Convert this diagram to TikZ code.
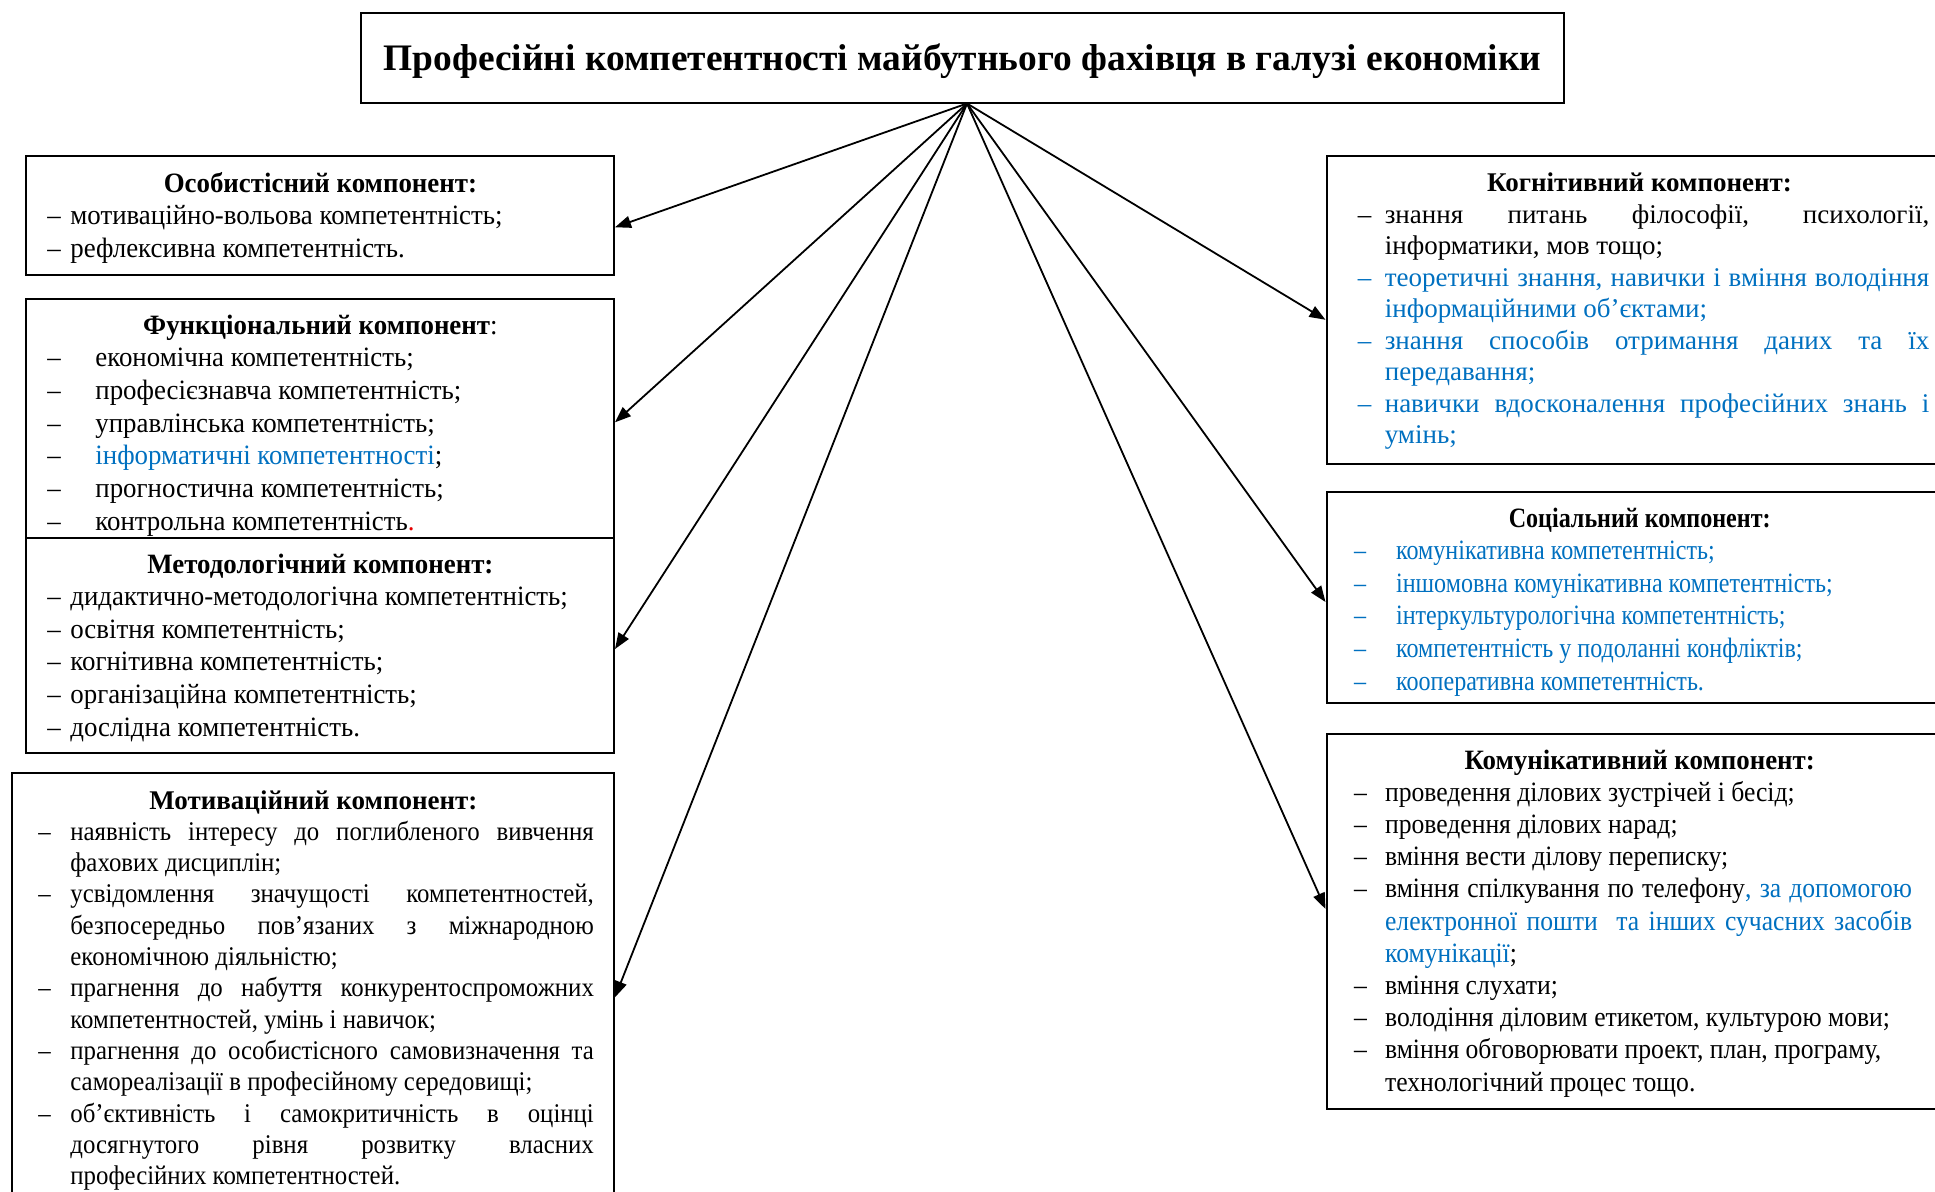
\documentclass[tikz,border=0pt]{standalone}
\usepackage{fontspec}
\setmainfont{Liberation Serif}
% narrower cuts of the same face
\newfontfamily\fsa[FakeStretch=0.96]{Liberation Serif}
\newfontfamily\fsb[FakeStretch=0.92]{Liberation Serif}
\newfontfamily\fsc[FakeStretch=0.86]{Liberation Serif}
\newfontfamily\fsd[FakeStretch=0.915]{Liberation Serif}
\usetikzlibrary{arrows.meta,calc}
\definecolor{itblue}{RGB}{0,112,192}
\definecolor{itred}{RGB}{230,0,0}

% heading line centred at a given offset from the left edge of the text block
\newcommand{\hd}[2]{\noindent\hspace*{#1}\makebox[0pt][c]{#2}\par}
% list line opening with a dash: [colour]{indent}{text}
\newcommand{\dl}[3][black]{\noindent{\color{#1}\makebox[#2][l]{–}#3}\par}
% continuation line of an item
\newcommand{\cl}[3][black]{\noindent\hspace*{#2}{\color{#1}#3}\par}
% fully justified line of given width
\newcommand{\jl}[2]{\makebox[#1][s]{#2}}

\begin{document}
\begin{tikzpicture}[x=0.5pt,y=-0.5pt,
  box/.style={draw, line width=1pt, inner sep=0pt},
  txt/.style={anchor=base west, inner sep=0pt},
  arr/.style={-{Triangle[length=8pt,width=6pt]}, line width=0.9pt}]
\useasboundingbox (0,0) rectangle (1935,1191);
\clip (0,0) rectangle (1935,1191);

% title
\node[box, minimum width=601.5pt, minimum height=45pt] (title) at (962.5,58) {};
\node[anchor=base, inner sep=0pt] (titleT) at (962.5,70)
  {\fontsize{18.7pt}{21pt}\selectfont\bfseries Професійні компетентності майбутнього фахівця в галузі економіки};
\coordinate (src) at (967,103.5);

% left column frames
\node[box, minimum width=294pt, minimum height=59.75pt] (osob) at (320,215.25) {};
\node[box, minimum width=294pt, minimum height=119.7pt] (func) at (320,418.3) {};
\node[box, minimum width=294pt, minimum height=107.5pt] (meth) at (320,645.5) {};
\node[box, minimum width=301pt, minimum height=224.75pt] (motiv) at (313,997.25) {};

% right column frames
\node[box, minimum width=312.75pt, minimum height=154.25pt] (cogn) at (1639.25,309.75) {};
\node[box, minimum width=312.75pt, minimum height=105.5pt] (soc) at (1639.25,597.5) {};
\node[box, minimum width=312.75pt, minimum height=187.5pt] (comm) at (1639.25,921.5) {};

% texts
\node[txt] (osobT) at (47,192) {\parbox[t]{280pt}{\fsa\fontsize{14pt}{16.35pt}\selectfont
\hd{136.5pt}{\textbf{Особистісний компонент:}}
\dl{11.5pt}{мотиваційно-вольова компетентність;}
\dl{11.5pt}{рефлексивна компетентність.}}};

\node[txt] (funcT) at (47,334) {\parbox[t]{280pt}{\fsa\fontsize{14pt}{16.35pt}\selectfont
\hd{136.5pt}{\textbf{Функціональний компонент}:}
\dl{24pt}{економічна компетентність;}
\dl{24pt}{професієзнавча компетентність;}
\dl{24pt}{управлінська компетентність;}
\dl{24pt}{\textcolor{itblue}{інформатичні компетентності};}
\dl{24pt}{прогностична компетентність;}
\dl{24pt}{контрольна компетентність\textcolor{itred}{.}}}};

\node[txt] (methT) at (47,573) {\parbox[t]{280pt}{\fsa\fontsize{14pt}{16.3pt}\selectfont
\hd{136.5pt}{\textbf{Методологічний компонент:}}
\dl{11.5pt}{дидактично-методологічна компетентність;}
\dl{11.5pt}{освітня компетентність;}
\dl{11.5pt}{когнітивна компетентність;}
\dl{11.5pt}{організаційна компетентність;}
\dl{11.5pt}{дослідна компетентність.}}};

\node[txt] (motivT) at (38,809) {\parbox[t]{290pt}{\fontsize{13.5pt}{15.65pt}\selectfont
\hd{137.5pt}{\textbf{Мотиваційний компонент:}}
\fsb\fontsize{13.5pt}{15.65pt}\selectfont
\dl{16pt}{\jl{261.75pt}{наявність інтересу до поглибленого вивчення}}
\cl{16pt}{фахових дисциплін;}
\dl{16pt}{\jl{261.75pt}{усвідомлення значущості компетентностей,}}
\cl{16pt}{\jl{261.75pt}{безпосередньо пов’язаних з міжнародною}}
\cl{16pt}{економічною діяльністю;}
\dl{16pt}{\jl{261.75pt}{прагнення до набуття конкурентоспроможних}}
\cl{16pt}{компетентностей, умінь і навичок;}
\dl{16pt}{\jl{261.75pt}{прагнення до особистісного самовизначення та}}
\cl{16pt}{самореалізації в професійному середовищі;}
\dl{16pt}{\jl{261.75pt}{об’єктивність і самокритичність в оцінці}}
\cl{16pt}{\jl{261.75pt}{досягнутого рівня розвитку власних}}
\cl{16pt}{професійних компетентностей.}}};

\node[txt] (cognT) at (1357.4,191.5) {\parbox[t]{290pt}{\fontsize{13.5pt}{15.75pt}\selectfont
\hd{140.9pt}{\textbf{Когнітивний компонент:}}
\dl{13.5pt}{\jl{272.25pt}{знання питань філософії, психології,}}
\cl{13.5pt}{інформатики, мов тощо;}
\dl[itblue]{13.5pt}{\jl{272.25pt}{теоретичні знання, навички і вміння володіння}}
\cl[itblue]{13.5pt}{інформаційними об’єктами;}
\dl[itblue]{13.5pt}{\jl{272.25pt}{знання способів отримання даних та їх}}
\cl[itblue]{13.5pt}{передавання;}
\dl[itblue]{13.5pt}{\jl{272.25pt}{навички вдосконалення професійних знань і}}
\cl[itblue]{13.5pt}{умінь;}}};

\node[txt] (socT) at (1353.7,527) {\parbox[t]{290pt}{\fsc\fontsize{14pt}{16.3pt}\selectfont
\hd{142.8pt}{\textbf{Соціальний компонент:}}
\dl[itblue]{21pt}{комунікативна компетентність;}
\dl[itblue]{21pt}{іншомовна комунікативна компетентність;}
\dl[itblue]{21pt}{інтеркультурологічна компетентність;}
\dl[itblue]{21pt}{компетентність у подоланні конфліктів;}
\dl[itblue]{21pt}{кооперативна компетентність.}}};

\node[txt] (commT) at (1353.7,769) {\parbox[t]{300pt}{\fsa\fontsize{14pt}{16.1pt}\selectfont
\hd{142.8pt}{\textbf{Комунікативний компонент:}}
\fsd\fontsize{14pt}{16.1pt}\selectfont
\dl{15.5pt}{проведення ділових зустрічей і бесід;}
\dl{15.5pt}{проведення ділових нарад;}
\dl{15.5pt}{вміння вести ділову переписку;}
\dl{15.5pt}{\jl{263.5pt}{вміння спілкування по телефону\textcolor{itblue}{, за допомогою}}}
\cl[itblue]{15.5pt}{\jl{263.5pt}{електронної пошти\ \ та інших сучасних засобів}}
\cl{15.5pt}{\textcolor{itblue}{комунікації};}
\dl{15.5pt}{вміння слухати;}
\dl{15.5pt}{володіння діловим етикетом, культурою мови;}
\dl{15.5pt}{вміння обговорювати проект, план, програму,}
\cl{15.5pt}{технологічний процес тощо.}}};

% connectors
\draw[arr] (src) -- ([yshift=-6pt]osob.east);
\draw[arr] (src) -- ([yshift=-2pt]func.east);
\draw[arr] (src) -- ([yshift=-1.75pt]meth.east);
\draw[arr] (src) -- ([yshift=0pt]motiv.east);
\draw[arr] (src) -- ([yshift=-5pt]cogn.west);
\draw[arr] (src) -- ([yshift=-2.25pt]soc.west);
\draw[arr] (src) -- ([yshift=6.25pt]comm.west);
\end{tikzpicture}
\end{document}
